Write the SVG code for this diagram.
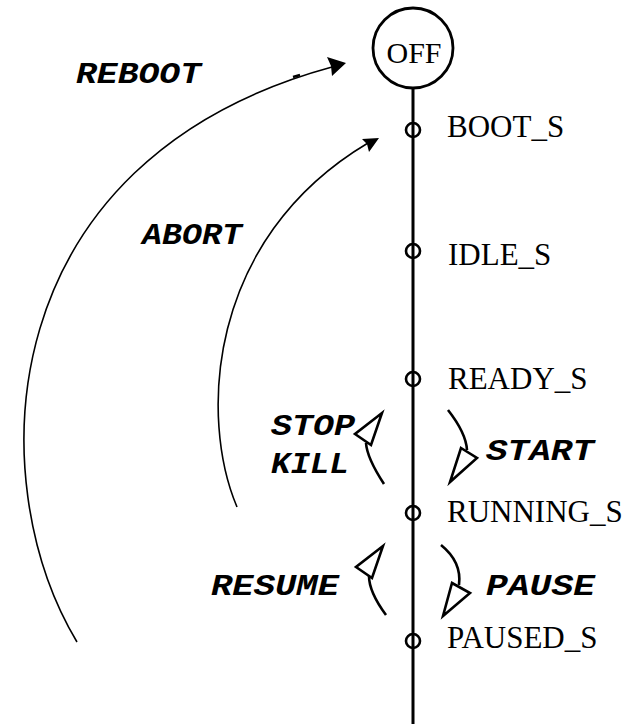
<svg xmlns="http://www.w3.org/2000/svg" width="630" height="724" viewBox="0 0 630 724">
<style>
.st{font-family:"Liberation Serif","Times New Roman",serif;font-size:31px;fill:#000}
.ev{font-family:"Liberation Mono","Courier New",monospace;font-size:29px;font-weight:bold;font-style:italic;fill:#000}
.arc{fill:none;stroke:#000;stroke-width:1.6}
.sm{fill:none;stroke:#000;stroke-width:2.6}
.oh{fill:#fff;stroke:#000;stroke-width:2.6;stroke-linejoin:miter}
.dot{fill:none;stroke:#000;stroke-width:2.6}
</style>
<rect width="630" height="724" fill="#fff"/>
<g id="spine"><line x1="413" y1="88" x2="413" y2="724" stroke="#000" stroke-width="3"/></g>
<g id="OFF"><circle cx="413" cy="48" r="40" fill="none" stroke="#000" stroke-width="2.8"/><text class="st" x="414" y="63" text-anchor="middle" style="font-size:30px">OFF</text></g>
<g id="BOOT_S"><circle class="dot" cx="413" cy="130" r="7"/><text class="st" x="447" y="137">BOOT_S</text></g>
<g id="IDLE_S"><circle class="dot" cx="413" cy="251" r="7"/><text class="st" x="448" y="265">IDLE_S</text></g>
<g id="READY_S"><circle class="dot" cx="413" cy="379" r="7"/><text class="st" x="448" y="389">READY_S</text></g>
<g id="RUNNING_S"><circle class="dot" cx="413" cy="513" r="7"/><text class="st" x="447" y="522">RUNNING_S</text></g>
<g id="PAUSED_S"><circle class="dot" cx="413" cy="641" r="7"/><text class="st" x="447" y="648">PAUSED_S</text></g>
<g id="connectors">
<path class="arc" d="M 77 642 C -20 480, -10 160, 332 67"/>
<path d="M 293 77 L 300 75" stroke="#000" stroke-width="2.4"/>
<polygon points="346,63 327,57 331,66 332,76" fill="#000"/>
<path class="arc" d="M 237 507 C 200 420, 205 240, 368 143"/>
<polygon points="379,138 362,139 367,144 369,152" fill="#000"/>
<path class="sm" d="M 384 484 Q 367 458 366 443"/>
<polygon class="oh" points="382,413 355,434 371,445"/>
<path class="sm" d="M 448 410 Q 466 433 467 450"/>
<polygon class="oh" points="461,448 477,458 450,482"/>
<path class="sm" d="M 386 615 Q 369 592 369 576"/>
<polygon class="oh" points="383,546 356,567 372,578"/>
<path class="sm" d="M 441 545 Q 462 562 459 585"/>
<polygon class="oh" points="452,583 470,593 443,616"/>
</g>
<g id="labels">
<text class="ev" x="76" y="83" textLength="125" lengthAdjust="spacingAndGlyphs">REBOOT</text>
<text class="ev" x="142" y="244" textLength="100" lengthAdjust="spacingAndGlyphs">ABORT</text>
<text class="ev" x="271" y="435" textLength="84" lengthAdjust="spacingAndGlyphs">STOP</text>
<text class="ev" x="271" y="473" textLength="78" lengthAdjust="spacingAndGlyphs">KILL</text>
<text class="ev" x="486" y="460" textLength="108" lengthAdjust="spacingAndGlyphs">START</text>
<text class="ev" x="211" y="595" textLength="128" lengthAdjust="spacingAndGlyphs">RESUME</text>
<text class="ev" x="486" y="595" textLength="109" lengthAdjust="spacingAndGlyphs">PAUSE</text>
</g>
</svg>
